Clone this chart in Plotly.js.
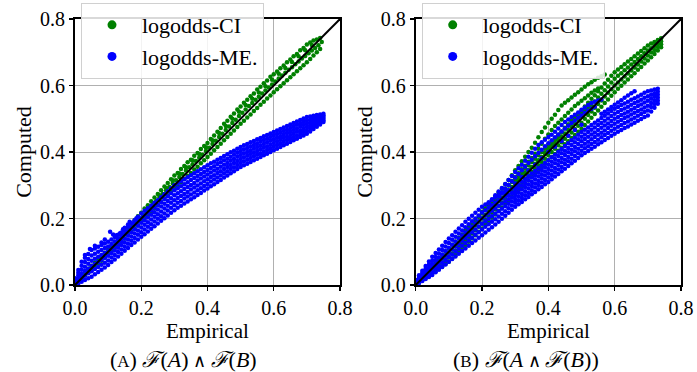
<!DOCTYPE html>
<html><head><meta charset="utf-8">
<script src="https://cdn.plot.ly/plotly-3.0.1.min.js"></script>
<style>html,body{margin:0;padding:0;background:#fff;} #chart{width:697px;height:372px;}</style>
</head><body><div id="chart"></div>
<script>
// x grids (Empirical values)
const xs1 = [0.00,0.01,0.02,0.03,0.04,0.05,0.06,0.07,0.08,0.09,0.10,0.11,0.12,0.13,0.14,0.15,0.16,0.17,0.18,0.19,0.20,0.21,0.22,0.23,0.24,0.25,0.26,0.27,0.28,0.29,0.30,0.31,0.32,0.33,0.34,0.35,0.36,0.37,0.38,0.39,0.40,0.41,0.42,0.43,0.44,0.45,0.46,0.47,0.48,0.49,0.50,0.51,0.52,0.53,0.54,0.55,0.56,0.57,0.58,0.59,0.60,0.61,0.62,0.63,0.64,0.65,0.66,0.67,0.68,0.69,0.70,0.71,0.72,0.73,0.74,0.75];
const xs2 = [0.005,0.015,0.025,0.035,0.045,0.055,0.065,0.075,0.085,0.095,0.105,0.115,0.125,0.135,0.145,0.155,0.165,0.175,0.185,0.195,0.205,0.215,0.225,0.235,0.245,0.255,0.265,0.275,0.285,0.295,0.305,0.315,0.325,0.335,0.345,0.355,0.365,0.375,0.385,0.395,0.405,0.415,0.425,0.435,0.445,0.455,0.465,0.475,0.485,0.495,0.505,0.515,0.525,0.535,0.545,0.555,0.565,0.575,0.585,0.595,0.605,0.615,0.625,0.635,0.645,0.655,0.665,0.675,0.685,0.695,0.705,0.715,0.725,0.735,0.745];

// Panel A, logodds-CI (Computed values)
const ciA_s1 = [0.008,0.018,0.029,0.037,0.049,0.058,0.067,0.079,0.088,0.097,0.109,0.118,0.130,0.140,0.151,0.163,0.172,0.184,0.195,0.207,0.217,0.230,0.240,0.252,0.263,0.274,0.285,0.296,0.307,0.318,0.329,0.337,0.349,0.358,0.369,0.377,0.389,0.397,0.409,0.418,0.427,0.439,0.450,0.461,0.472,0.485,0.494,0.506,0.516,0.528,0.537,0.548,0.557,0.568,0.576,0.588,0.596,0.607,0.615,0.626,0.634,0.642,0.652,0.660,0.670,0.678,0.688,0.695,0.706,0.713,0.723,0.729,0.735,0.738,0.743,null];
const ciA_s2 = [0.010,0.019,0.029,0.039,0.049,0.058,0.068,0.078,0.087,0.097,0.107,0.117,0.128,0.138,0.148,0.159,0.169,0.180,0.190,0.200,0.211,0.221,0.232,0.242,0.253,0.263,0.274,0.284,0.295,0.305,0.315,0.325,0.334,0.344,0.354,0.363,0.373,0.383,0.392,0.403,0.413,0.424,0.434,0.445,0.455,0.466,0.477,0.487,0.497,0.508,0.518,0.528,0.538,0.547,0.557,0.566,0.576,0.585,0.594,0.603,0.612,0.621,0.630,0.638,0.647,0.655,0.664,0.672,0.681,0.689,0.697,0.705,0.713,0.721,0.731];
const ciA_s3 = [null,null,0.020,0.029,0.037,0.046,0.055,0.064,0.073,0.082,0.092,0.101,0.111,0.120,0.131,0.140,0.151,0.160,0.171,0.180,0.190,0.200,0.210,0.220,0.230,0.240,0.250,0.260,0.270,0.280,0.290,0.299,0.309,0.319,0.328,0.337,0.347,0.356,0.366,0.375,0.385,0.395,0.405,0.415,0.425,0.435,0.445,0.455,0.465,0.475,0.485,0.494,0.504,0.513,0.523,0.532,0.542,0.551,0.561,0.570,0.580,0.589,0.598,0.607,0.616,0.625,0.634,0.643,0.652,0.661,0.670,0.680,0.690,0.700,0.710,null];
const ciA_s4_x = [0.255,0.275,0.295,0.315,0.335,0.355,0.375,0.395,0.415,0.435,0.455,0.475,0.495,0.515,0.535,0.555,0.575,0.595,0.615,0.635,0.655,0.675,0.695,0.715];
const ciA_s4_y = [0.270,0.292,0.315,0.335,0.354,0.375,0.394,0.414,0.435,0.457,0.478,0.500,0.521,0.541,0.560,0.579,0.598,0.617,0.635,0.653,0.671,0.688,0.706,0.722];

// Panel A, logodds-ME.
const meA_s0 = [0.000,0.005,0.010,0.015,0.020,0.025,0.032,0.039,0.046,0.053,0.060,0.069,0.077,0.086,0.094,0.103,0.111,0.120,0.128,0.137,0.145,0.153,0.161,0.169,0.177,0.185,0.193,0.201,0.209,0.217,0.225,0.232,0.238,0.245,0.251,0.258,0.264,0.271,0.277,0.284,0.290,0.297,0.303,0.310,0.316,0.323,0.329,0.336,0.342,0.349,0.355,0.360,0.365,0.370,0.375,0.380,0.385,0.390,0.395,0.400,0.405,0.410,0.415,0.420,0.425,0.430,0.435,0.440,0.445,0.450,0.455,0.462,0.469,0.476,0.483,0.490];
const meA_s1 = [0.004,0.013,0.022,0.028,0.035,0.041,0.048,0.054,0.061,0.067,0.074,0.083,0.090,0.099,0.107,0.115,0.124,0.133,0.141,0.151,0.159,0.167,0.175,0.183,0.191,0.199,0.207,0.215,0.224,0.232,0.240,0.247,0.253,0.260,0.266,0.272,0.278,0.285,0.291,0.298,0.304,0.311,0.317,0.323,0.329,0.336,0.342,0.349,0.354,0.361,0.367,0.372,0.377,0.382,0.387,0.392,0.396,0.401,0.406,0.411,0.416,0.421,0.426,0.431,0.436,0.441,0.445,0.450,0.455,0.460,0.465,0.471,0.477,0.483,0.489,0.495];
const meA_s2 = [0.008,0.021,0.034,0.042,0.049,0.057,0.063,0.069,0.076,0.082,0.088,0.096,0.104,0.112,0.120,0.128,0.137,0.146,0.155,0.164,0.173,0.181,0.189,0.197,0.205,0.213,0.221,0.230,0.238,0.247,0.255,0.262,0.268,0.274,0.280,0.287,0.293,0.299,0.305,0.312,0.318,0.325,0.330,0.337,0.342,0.349,0.355,0.361,0.367,0.373,0.379,0.384,0.389,0.394,0.398,0.403,0.408,0.413,0.417,0.422,0.427,0.432,0.437,0.442,0.446,0.451,0.456,0.461,0.465,0.470,0.475,0.480,0.485,0.490,0.495,0.500];
const meA_s3 = [0.012,0.029,0.046,0.055,0.064,0.073,0.079,0.085,0.090,0.096,0.102,0.110,0.117,0.125,0.132,0.140,0.149,0.159,0.168,0.178,0.187,0.195,0.203,0.211,0.219,0.227,0.236,0.244,0.253,0.261,0.270,0.276,0.282,0.289,0.295,0.301,0.307,0.314,0.320,0.326,0.332,0.338,0.344,0.350,0.356,0.362,0.367,0.374,0.379,0.386,0.391,0.396,0.400,0.405,0.410,0.415,0.419,0.424,0.429,0.434,0.438,0.443,0.447,0.452,0.457,0.462,0.466,0.471,0.476,0.481,0.485,0.489,0.493,0.497,0.501,0.505];
const meA_s4 = [0.016,0.037,0.058,0.069,0.078,0.089,0.094,0.100,0.105,0.111,0.116,0.123,0.131,0.138,0.145,0.153,0.162,0.172,0.182,0.191,0.201,0.209,0.217,0.225,0.233,0.241,0.250,0.259,0.267,0.276,0.285,0.291,0.297,0.303,0.309,0.316,0.322,0.328,0.334,0.340,0.346,0.352,0.357,0.364,0.369,0.375,0.380,0.386,0.392,0.398,0.403,0.408,0.412,0.417,0.421,0.426,0.431,0.436,0.440,0.445,0.449,0.454,0.458,0.463,0.467,0.472,0.477,0.482,0.486,0.491,0.495,0.498,0.501,0.504,0.507,0.510];
const meA_s5 = [0.020,0.045,0.070,0.082,0.093,0.105,0.110,0.115,0.120,0.125,0.130,0.137,0.144,0.151,0.158,0.165,0.175,0.185,0.195,0.205,0.215,0.223,0.231,0.239,0.247,0.255,0.264,0.273,0.282,0.291,0.300,0.306,0.312,0.318,0.324,0.330,0.336,0.342,0.348,0.354,0.360,0.366,0.371,0.377,0.382,0.388,0.393,0.399,0.404,0.410,0.415,0.420,0.424,0.429,0.433,0.438,0.442,0.447,0.451,0.456,0.460,0.465,0.469,0.474,0.478,0.483,0.487,0.492,0.496,0.501,0.505,0.507,0.509,0.511,0.513,0.515];
const meA_out_x = [0.030,0.045,0.060,0.080,0.090,0.106,0.115,0.125,0.136,0.145,0.150,0.160,0.165,0.175,0.185];
const meA_out_y = [0.090,0.108,0.118,0.128,0.137,0.160,0.152,0.150,0.156,0.168,0.172,0.182,0.190,0.186,0.200];

// Panel B, logodds-CI
const ciB_s0 = [0.000,0.007,0.014,0.021,0.028,0.035,0.042,0.049,0.056,0.063,0.070,0.080,0.090,0.100,0.110,0.120,0.130,0.140,0.150,0.160,0.170,0.181,0.191,0.202,0.212,0.223,0.233,0.244,0.254,0.265,0.275,0.285,0.295,0.305,0.315,0.325,0.335,0.345,0.355,0.365,0.375,0.385,0.394,0.404,0.413,0.423,0.432,0.442,0.451,0.461,0.470,0.481,0.492,0.503,0.514,0.525,0.536,0.547,0.558,0.569,0.580,0.590,0.599,0.609,0.618,0.628,0.637,0.647,0.656,0.666,0.675,0.685,0.695,0.705,0.715,null];
const ciB_s1 = [0.003,0.011,0.019,0.027,0.035,0.043,0.051,0.059,0.067,0.075,0.083,0.094,0.104,0.114,0.124,0.134,0.144,0.155,0.165,0.175,0.185,0.196,0.206,0.217,0.227,0.238,0.248,0.259,0.269,0.280,0.290,0.300,0.310,0.320,0.330,0.340,0.350,0.360,0.370,0.380,0.390,0.400,0.410,0.420,0.429,0.440,0.449,0.459,0.469,0.479,0.488,0.500,0.511,0.522,0.533,0.544,0.555,0.567,0.578,0.589,0.600,0.609,0.618,0.627,0.636,0.645,0.654,0.663,0.672,0.681,0.690,0.699,0.707,0.716,0.724,null];
const ciB_s2 = [0.007,0.016,0.025,0.034,0.043,0.052,0.061,0.070,0.079,0.088,0.097,0.107,0.117,0.128,0.138,0.149,0.159,0.169,0.179,0.190,0.200,0.211,0.221,0.232,0.242,0.253,0.263,0.274,0.284,0.295,0.305,0.315,0.325,0.335,0.345,0.355,0.365,0.375,0.385,0.395,0.405,0.416,0.425,0.436,0.446,0.456,0.466,0.477,0.486,0.497,0.507,0.518,0.529,0.541,0.552,0.564,0.575,0.586,0.597,0.609,0.620,0.629,0.637,0.646,0.654,0.663,0.671,0.680,0.688,0.697,0.705,0.712,0.719,0.726,0.733,null];
const ciB_s3 = [0.010,0.020,0.030,0.040,0.050,0.060,0.070,0.080,0.090,0.100,0.110,0.121,0.131,0.142,0.152,0.163,0.173,0.184,0.194,0.205,0.215,0.226,0.236,0.247,0.257,0.268,0.278,0.289,0.299,0.310,0.320,0.330,0.340,0.350,0.360,0.370,0.380,0.390,0.400,0.410,0.420,0.431,0.441,0.452,0.462,0.473,0.483,0.494,0.504,0.515,0.525,0.537,0.548,0.560,0.571,0.583,0.594,0.606,0.617,0.629,0.640,0.648,0.656,0.664,0.672,0.680,0.688,0.696,0.704,0.712,0.720,0.726,0.731,0.737,0.742,null];
const ciB_u1_x = [0.20,0.21,0.22,0.23,0.24,0.25,0.26,0.27,0.28,0.29,0.30,0.31,0.32,0.33,0.34,0.35,0.36,0.37,0.38,0.39,0.40,0.41,0.42,0.43,0.44,0.45,0.46,0.47,0.48,0.49,0.50,0.51,0.52,0.53,0.54,0.55,0.56,0.57];
const ciB_u1_y = [0.220,0.231,0.243,0.254,0.266,0.278,0.290,0.303,0.316,0.330,0.345,0.358,0.372,0.386,0.400,0.413,0.428,0.444,0.460,0.474,0.488,0.500,0.512,0.526,0.540,0.548,0.556,0.564,0.572,0.580,0.588,0.596,0.604,0.610,0.617,0.623,0.628,0.633];
const ciB_u2_x = [0.25,0.26,0.27,0.28,0.29,0.30,0.31,0.32,0.33,0.34,0.35,0.36,0.37,0.38,0.39,0.40,0.41,0.42,0.43,0.44,0.45,0.46,0.47,0.48,0.49,0.50,0.51,0.52,0.53,0.54,0.55];
const ciB_u2_y = [0.265,0.277,0.289,0.301,0.313,0.325,0.336,0.348,0.359,0.371,0.382,0.395,0.410,0.425,0.440,0.453,0.466,0.478,0.488,0.498,0.508,0.518,0.528,0.538,0.546,0.554,0.562,0.570,0.578,0.585,0.591];
const ciB_u3_x = [0.30,0.31,0.32,0.33,0.34,0.35,0.36,0.37,0.38,0.39,0.40,0.41,0.42,0.43,0.44,0.45,0.46,0.47,0.48,0.49,0.50,0.51,0.52];
const ciB_u3_y = [0.312,0.320,0.329,0.337,0.346,0.354,0.362,0.372,0.385,0.398,0.411,0.423,0.435,0.447,0.459,0.471,0.482,0.493,0.501,0.509,0.518,0.528,0.538];

// Panel B, logodds-ME.
const meB_s0 = [0.000,0.006,0.012,0.018,0.024,0.030,0.038,0.046,0.054,0.062,0.070,0.078,0.086,0.094,0.102,0.110,0.118,0.126,0.134,0.142,0.150,0.158,0.166,0.174,0.182,0.190,0.199,0.208,0.217,0.226,0.235,0.243,0.250,0.258,0.265,0.273,0.280,0.288,0.295,0.303,0.310,0.318,0.326,0.334,0.342,0.350,0.358,0.366,0.374,0.382,0.390,0.397,0.403,0.410,0.416,0.423,0.429,0.436,0.442,0.449,0.455,0.461,0.466,0.472,0.477,0.483,0.488,0.494,0.499,0.505,0.510,0.522,0.533,0.545,null,null];
const meB_s1 = [0.003,0.011,0.018,0.026,0.033,0.041,0.050,0.058,0.067,0.075,0.084,0.092,0.101,0.109,0.118,0.126,0.134,0.142,0.151,0.159,0.167,0.175,0.183,0.190,0.198,0.206,0.214,0.222,0.231,0.239,0.247,0.255,0.262,0.270,0.277,0.285,0.293,0.301,0.308,0.316,0.323,0.331,0.339,0.347,0.355,0.364,0.372,0.380,0.388,0.396,0.404,0.411,0.417,0.424,0.430,0.437,0.444,0.451,0.457,0.464,0.470,0.476,0.481,0.487,0.492,0.498,0.503,0.509,0.514,0.520,0.525,0.535,0.544,0.554,null,null];
const meB_s2 = [0.006,0.015,0.024,0.034,0.043,0.052,0.061,0.070,0.080,0.089,0.098,0.107,0.116,0.124,0.133,0.142,0.150,0.159,0.167,0.176,0.184,0.192,0.199,0.207,0.214,0.222,0.229,0.237,0.244,0.252,0.259,0.267,0.274,0.282,0.290,0.298,0.305,0.313,0.321,0.329,0.336,0.344,0.352,0.361,0.369,0.377,0.385,0.394,0.402,0.410,0.418,0.425,0.431,0.438,0.445,0.452,0.458,0.465,0.472,0.479,0.485,0.491,0.496,0.502,0.507,0.513,0.518,0.523,0.528,0.534,0.539,0.547,0.555,0.563,null,null];
const meB_s3 = [0.009,0.020,0.031,0.041,0.052,0.063,0.073,0.083,0.092,0.102,0.112,0.121,0.130,0.140,0.149,0.158,0.167,0.175,0.184,0.192,0.201,0.208,0.216,0.223,0.231,0.238,0.245,0.251,0.258,0.264,0.271,0.279,0.287,0.295,0.302,0.310,0.318,0.326,0.333,0.341,0.349,0.358,0.366,0.374,0.382,0.391,0.399,0.407,0.415,0.424,0.432,0.439,0.446,0.453,0.459,0.466,0.473,0.480,0.486,0.493,0.500,0.505,0.511,0.516,0.521,0.527,0.532,0.538,0.543,0.549,0.554,0.560,0.566,0.572,null,null];
const meB_s4 = [0.012,0.024,0.037,0.049,0.062,0.074,0.084,0.095,0.105,0.116,0.126,0.136,0.145,0.155,0.164,0.174,0.183,0.192,0.200,0.209,0.218,0.225,0.232,0.240,0.247,0.254,0.260,0.266,0.271,0.277,0.283,0.291,0.299,0.307,0.315,0.323,0.330,0.338,0.346,0.354,0.362,0.371,0.379,0.388,0.396,0.404,0.412,0.421,0.429,0.438,0.446,0.453,0.460,0.467,0.474,0.481,0.487,0.494,0.501,0.508,0.515,0.520,0.526,0.531,0.536,0.542,0.547,0.552,0.557,0.563,0.568,0.572,0.577,0.581,null,null];
const meB_s5 = [0.015,0.029,0.043,0.057,0.071,0.085,0.096,0.107,0.118,0.129,0.140,0.150,0.160,0.170,0.180,0.190,0.199,0.208,0.217,0.226,0.235,0.242,0.249,0.256,0.263,0.270,0.275,0.280,0.285,0.290,0.295,0.303,0.311,0.319,0.327,0.335,0.343,0.351,0.359,0.367,0.375,0.384,0.392,0.401,0.409,0.418,0.426,0.435,0.443,0.452,0.460,0.467,0.474,0.481,0.488,0.495,0.502,0.509,0.516,0.523,0.530,0.535,0.541,0.546,0.551,0.557,0.562,0.567,0.572,0.578,0.583,0.585,0.588,0.590,null,null];
const meB_u1_x = [0.22,0.23,0.24,0.25,0.26,0.27,0.28,0.29,0.30,0.31,0.32,0.33,0.34,0.35,0.36,0.37,0.38,0.39,0.40,0.41,0.42,0.43,0.44,0.45,0.46,0.47,0.48,0.49,0.50,0.51,0.52,0.53,0.54,0.55,0.56];
const meB_u1_y = [0.246,0.258,0.270,0.281,0.292,0.304,0.316,0.328,0.340,0.351,0.362,0.374,0.386,0.398,0.410,0.421,0.429,0.437,0.445,0.452,0.461,0.471,0.481,0.490,0.498,0.505,0.512,0.519,0.527,0.534,0.541,0.547,0.551,0.555,0.558];
const meB_u2_x = [0.25,0.26,0.27,0.28,0.29,0.30,0.31,0.32,0.33,0.34,0.35,0.36,0.37,0.38,0.39,0.40,0.41,0.42,0.43,0.44,0.45,0.46,0.47,0.48,0.49,0.50,0.51,0.52,0.53,0.54];
const meB_u2_y = [0.268,0.279,0.290,0.301,0.312,0.323,0.334,0.345,0.356,0.367,0.377,0.387,0.397,0.407,0.417,0.426,0.435,0.444,0.453,0.462,0.471,0.479,0.487,0.495,0.503,0.510,0.517,0.524,0.530,0.536];
const meB_u3_x = [0.30,0.32,0.34,0.36,0.38,0.40,0.42,0.44,0.46,0.48,0.50];
const meB_u3_y = [0.305,0.325,0.344,0.362,0.381,0.400,0.416,0.433,0.449,0.466,0.482];
const meB_t_x = [0.56,0.57,0.58,0.59,0.60,0.61,0.62,0.63,0.64,0.65,0.66];
const meB_t_y = [0.515,0.521,0.528,0.535,0.542,0.549,0.556,0.563,0.570,0.577,0.583];

// reference line y = x and axis ticks
const diag = [0, 0.8];
const tickVals = [0, 0.2, 0.4, 0.6, 0.8];
const tickText = ['0.0', '0.2', '0.4', '0.6', '0.8'];
const seriesNames = ['logodds-CI', 'logodds-ME.'];
const xTitle = 'Empirical', yTitle = 'Computed';
const WEDGE = '<span style="font-size:18px">\u00a0∧\u00a0</span>';
const captionA = '(<span style="font-size:17px">A</span>)\u00a0<i>ℱ</i>(<i>A</i>)' + WEDGE + '<i>ℱ</i>(<i>B</i>)';
const captionB = '(<span style="font-size:17px">B</span>)\u00a0<i>ℱ</i>(<i>A</i>' + WEDGE + '<i>ℱ</i>(<i>B</i>))';

const FONT = 'Liberation Serif, serif';
const FS = 22, TFS = 20, XFS = 21, CFS = 22;
const GREEN = '#008000', BLUE = '#0000ff';
const MS = 4.5;

function pts(xa, ya, color, xaxis, yaxis) {
  return {type: 'scatter', mode: 'markers', x: xa, y: ya, xaxis: xaxis, yaxis: yaxis,
    marker: {color: color, size: MS, line: {width: 0}}, showlegend: false, hoverinfo: 'skip', cliponaxis: true};
}
function line(xaxis, yaxis) {
  return {type: 'scatter', mode: 'lines', x: diag, y: diag, xaxis: xaxis, yaxis: yaxis,
    line: {color: '#000', width: 2}, showlegend: false, hoverinfo: 'skip'};
}
function leg(name, color, legend, xaxis, yaxis) {
  return {type: 'scatter', mode: 'markers', x: [null], y: [null], name: name, legend: legend,
    xaxis: xaxis, yaxis: yaxis, marker: {color: color, size: 9}, showlegend: true};
}

const traces = [
  pts([].concat(xs1, xs2, xs1, ciA_s4_x), [].concat(ciA_s1, ciA_s2, ciA_s3, ciA_s4_y), GREEN, 'x', 'y'),
  pts([].concat(xs1, xs1, xs1, xs1, xs1, xs1, meA_out_x), [].concat(meA_s0, meA_s1, meA_s2, meA_s3, meA_s4, meA_s5, meA_out_y), BLUE, 'x', 'y'),
  line('x', 'y'),
  pts([].concat(xs1, xs1, xs1, xs1, ciB_u1_x, ciB_u2_x, ciB_u3_x), [].concat(ciB_s0, ciB_s1, ciB_s2, ciB_s3, ciB_u1_y, ciB_u2_y, ciB_u3_y), GREEN, 'x2', 'y2'),
  pts([].concat(xs1, xs1, xs1, xs1, xs1, xs1, meB_u1_x, meB_u2_x, meB_u3_x, meB_t_x), [].concat(meB_s0, meB_s1, meB_s2, meB_s3, meB_s4, meB_s5, meB_u1_y, meB_u2_y, meB_u3_y, meB_t_y), BLUE, 'x2', 'y2'),
  line('x2', 'y2'),
  leg(seriesNames[0], GREEN, 'legend', 'x', 'y'),
  leg(seriesNames[1], BLUE, 'legend', 'x', 'y'),
  leg(seriesNames[0], GREEN, 'legend2', 'x2', 'y2'),
  leg(seriesNames[1], BLUE, 'legend2', 'x2', 'y2')
];

function ax(domain, anchor, title) {
  const a = {domain: domain, anchor: anchor, range: [0, 0.8], tickvals: tickVals, ticktext: tickText,
    showgrid: true, gridcolor: '#b0b0b0', gridwidth: 1, zeroline: false,
    showline: true, mirror: true, linecolor: '#000', linewidth: 2,
    ticks: 'outside', ticklen: 4, tickwidth: 1.2, tickcolor: '#000',
    tickfont: {family: FONT, size: TFS, color: '#000'}, fixedrange: true};
  if (title) a.title = {text: title, font: {family: FONT, size: FS, color: '#000'}, standoff: 2};
  return a;
}
const legendBase = {xanchor: 'left', yanchor: 'top', y: 1.06, bgcolor: 'rgba(255,255,255,0.85)',
  bordercolor: '#d0d0d0', borderwidth: 1, font: {family: FONT, size: FS, color: '#000'}, itemwidth: 50};

function note(text, xpx, ypx, size) {
  return {text: text, xref: 'paper', yref: 'paper', x: xpx/697, y: (285-ypx)/266,
    xanchor: 'center', yanchor: 'middle', showarrow: false, font: {family: FONT, size: size, color: '#000'}};
}

const layout = {
  width: 697, height: 372, margin: {l: 0, r: 0, t: 19, b: 87},
  paper_bgcolor: '#fff', plot_bgcolor: '#fff',
  font: {family: FONT},
  xaxis: ax([75/697, 340/697], 'y', null),
  yaxis: ax([0, 1], 'x', yTitle),
  xaxis2: ax([415.7/697, 681/697], 'y2', null),
  yaxis2: ax([0, 1], 'x2', yTitle),
  legend: Object.assign({x: 81/697}, legendBase),
  legend2: Object.assign({x: 421.7/697}, legendBase),
  annotations: [
    note(xTitle, 207.5, 331, XFS),
    note(xTitle, 548.3, 331, XFS),
    note(captionA, 183, 359, CFS),
    note(captionB, 526, 359, CFS)
  ]
};
Plotly.newPlot('chart', traces, layout, {displayModeBar: false, staticPlot: true});
</script>
</body></html>
